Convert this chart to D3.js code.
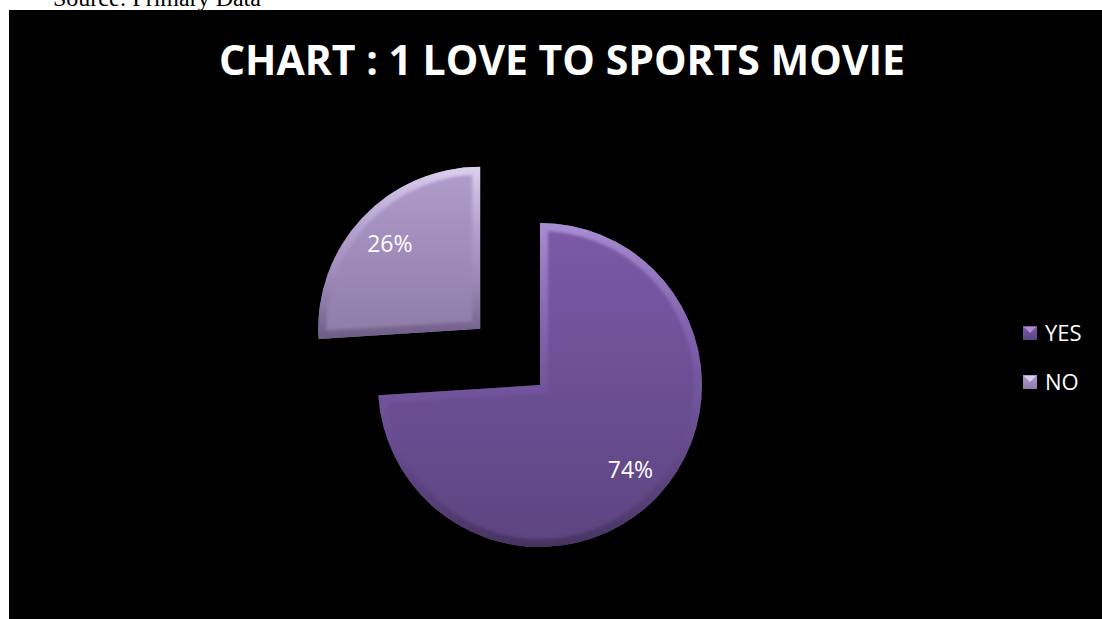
<!DOCTYPE html>
<html>
<head>
<meta charset="utf-8">
<script src="https://cdn.jsdelivr.net/npm/d3@7"></script>
<style>
  html, body { margin: 0; padding: 0; background: #fff; }
  svg { display: block; }
</style>
</head>
<body>
<svg id="chart" width="1102" height="619"></svg>
<script>
// Survey answers and their shares (percent)
const categories = ["YES", "NO"];
const shares = [74, 26];
const sourceNote = "Source: Primary Data";
const chartTitle = "CHART : 1 LOVE TO SPORTS MOVIE";

const W = 1102, H = 619;
const svg = d3.select("#chart");
const defs = svg.append("defs");

// page note above the chart panel
svg.append("text")
  .attr("x", 53).attr("y", 6)
  .attr("font-family", "Liberation Serif, Times New Roman, serif")
  .attr("font-size", 24)
  .attr("fill", "#000")
  .text(sourceNote);

// black chart panel
svg.append("rect")
  .attr("x", 9).attr("y", 10)
  .attr("width", W - 9).attr("height", H - 10)
  .attr("fill", "#000");

// title
svg.append("text")
  .attr("x", 562).attr("y", 75)
  .attr("text-anchor", "middle")
  .attr("font-family", "Open Sans, Lato, sans-serif")
  .attr("font-weight", 700)
  .attr("font-size", 41)
  .attr("textLength", 686)
  .attr("lengthAdjust", "spacingAndGlyphs")
  .attr("fill", "#fff")
  .text(chartTitle);

// slice colours: top and bottom of the vertical gradient
const fillTop = { YES: "#7b59a7", NO: "#b19dcd" };
const fillBottom = { YES: "#5c4581", NO: "#8d7ba7" };
const edgeLight = { YES: "#a98ed2", NO: "#dccfee" };
const edgeDark = { YES: "#45325f", NO: "#6b5b84" };

categories.forEach(c => {
  const g = defs.append("linearGradient").attr("id", "fill-" + c)
    .attr("gradientUnits", "objectBoundingBox")
    .attr("x1", 0).attr("y1", 0).attr("x2", 0).attr("y2", 1);
  g.append("stop").attr("offset", "0%").attr("stop-color", fillTop[c]);
  g.append("stop").attr("offset", "100%").attr("stop-color", fillBottom[c]);
  const e = defs.append("linearGradient").attr("id", "edge-" + c)
    .attr("gradientUnits", "objectBoundingBox")
    .attr("x1", 0).attr("y1", 0).attr("x2", 0).attr("y2", 1);
  e.append("stop").attr("offset", "0%").attr("stop-color", edgeLight[c]);
  e.append("stop").attr("offset", "50%").attr("stop-color", fillTop[c]).attr("stop-opacity", 0.5);
  e.append("stop").attr("offset", "100%").attr("stop-color", edgeDark[c]);
});

defs.append("filter").attr("id", "soft")
  .append("feGaussianBlur").attr("stdDeviation", 1.8);

// pie layout: first slice starts at 12 o'clock, clockwise
const cx = 540, cy = 385, radius = 162, explode = 82, labelR = 124;
const pie = d3.pie().sort(null).value(d => d.v);
const arcs = pie(categories.map((k, i) => ({ k, v: shares[i] })));
const arc = d3.arc().innerRadius(0).outerRadius(radius);

const offset = d => {
  if (d.data.k !== "NO") return [0, 0];
  const a = (d.startAngle + d.endAngle) / 2;
  return [Math.sin(a) * explode, -Math.cos(a) * explode];
};

const slices = svg.append("g").attr("transform", `translate(${cx},${cy})`)
  .selectAll("g.slice").data(arcs).join("g")
  .attr("class", "slice")
  .attr("transform", d => `translate(${offset(d)})`);

slices.append("clipPath").attr("id", d => "clip-" + d.data.k)
  .append("path").attr("d", arc);

slices.append("path")
  .attr("d", arc)
  .attr("fill", d => `url(#fill-${d.data.k})`);

// bevelled rim
slices.append("path")
  .attr("d", arc)
  .attr("fill", "none")
  .attr("stroke", d => `url(#edge-${d.data.k})`)
  .attr("stroke-width", 16)
  .attr("stroke-linejoin", "miter")
  .attr("clip-path", d => `url(#clip-${d.data.k})`)
  .attr("filter", "url(#soft)");

// percentage labels
slices.append("text")
  .attr("transform", d => {
    const a = (d.startAngle + d.endAngle) / 2;
    return `translate(${Math.sin(a) * labelR},${-Math.cos(a) * labelR})`;
  })
  .attr("text-anchor", "middle")
  .attr("dy", "0.36em")
  .attr("font-family", "Open Sans, sans-serif")
  .attr("font-size", 23)
  .attr("fill", "#fff")
  .text(d => d.data.v + "%");

// legend
const legend = svg.append("g").attr("transform", "translate(1023,0)");
const legendY = d3.scalePoint().domain(categories).range([333, 382]);
const item = legend.selectAll("g").data(categories).join("g")
  .attr("transform", d => `translate(0,${legendY(d)})`);
item.append("rect")
  .attr("x", 0).attr("y", -7).attr("width", 14).attr("height", 14)
  .attr("fill", d => `url(#fill-${d})`);
item.append("path")
  .attr("d", "M1,-6 L13,-6 L7,0 Z")
  .attr("fill", d => edgeLight[d]);
item.append("text")
  .attr("x", 22).attr("dy", "0.36em")
  .attr("font-family", "Open Sans, sans-serif")
  .attr("font-size", 22)
  .attr("fill", "#fff")
  .text(d => d);
</script>
</body>
</html>
